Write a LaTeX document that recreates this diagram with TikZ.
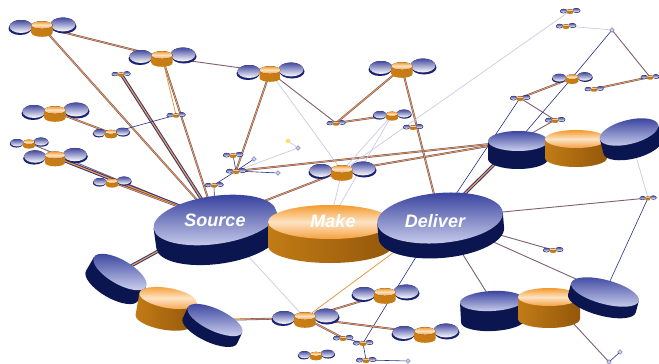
\documentclass[tikz,border=0pt]{standalone}
\usepackage{fontspec}
\setmainfont{Liberation Sans}
\usetikzlibrary{shapes.geometric,calc}
\definecolor{bT1}{HTML}{2E3596}
\definecolor{bT2}{HTML}{F0F1FC}
\definecolor{bS}{HTML}{1A2276}
\definecolor{BT1}{HTML}{3C46A0}
\definecolor{BT2}{HTML}{CDD1EE}
\definecolor{BS}{HTML}{0B1650}
\definecolor{oT1}{HTML}{F39A2C}
\definecolor{oT2}{HTML}{F5A040}
\definecolor{oT3}{HTML}{FDE3C4}
\definecolor{oS1}{HTML}{C27C16}
\definecolor{oS2}{HTML}{94570A}
\definecolor{lnk}{HTML}{6A5278}
\definecolor{brn}{HTML}{7E6070}
\newcommand\mycyl[7]{%
\begin{scope}[shift={(#1)},rotate=#5]
\path[#7] (-#2,0) -- (-#2,#4) arc[start angle=180,end angle=0,x radius=#2,y radius=#3] -- (#2,0) -- cycle;
\path[#6] (0,0) ellipse[x radius=#2,y radius=#3];
\end{scope}}
\tikzset{
 sbtop/.style={top color=bT1!90!white,middle color=bT1!30!white,bottom color=white},
 sbside/.style={fill=bS},
 btop/.style={top color=BT1,bottom color=BT2},
 bside/.style={fill=BS},
 otop/.style={top color=oT1,bottom color=oT2,middle color=oT3},
 soside/.style={left color=oS1!80!orange,right color=oS1},
 oside/.style={left color=oS1,right color=oS2},
 trio/.pic={
  \fill[sbside] (-22,1.5) ellipse[x radius=11.5,y radius=6.5];
  \fill[sbtop] (-21,-0.5) ellipse[x radius=11.5,y radius=6.5];
  \fill[sbside] (22,-0.5) ellipse[x radius=12.5,y radius=7];
  \fill[sbtop] (21,-2.5) ellipse[x radius=12.5,y radius=7];
  \path[soside] (-10.5,-2) -- (-10.5,6) arc[start angle=180,end angle=0,x radius=10.5,y radius=3.8] -- (10.5,-2) -- cycle;
  \fill[otop] (0,-2) ellipse[x radius=10.5,y radius=3.8];
 },
 dlink/.style={draw=lnk,double=oT2,double distance=0.8pt,line width=0.55pt},
 tlink/.style={draw=bT1,double=oT1,double distance=1.2pt,line width=1pt},
 brlink/.style={draw=brn,line width=0.9pt},
 blink/.style={draw=bT1!90!black,line width=0.6pt},
 llink/.style={draw=bT1!25,line width=0.7pt},
 olink/.style={draw=oT1!70!brown,line width=0.7pt},
 dia/.style={diamond,draw=bT1!70,fill=bT1!25,inner sep=0pt,minimum size=5pt,line width=0.4pt},
 yblob/.style={ellipse,fill=yellow!60!orange!60,inner sep=0pt,minimum width=5pt,minimum height=4pt},
 lbl/.style={text=white,font=\bfseries\itshape\fontsize{18}{18}\selectfont,inner sep=0pt},
}
\begin{document}
\begin{tikzpicture}[x=1pt,y=-1pt]
\fill[white] (0,0) rectangle (659,364);
\useasboundingbox (0,0) rectangle (659,364);
% main discs
\coordinate (src) at (215,220);
\coordinate (mk) at (330,222);
\coordinate (dl) at (440,218);
\coordinate (bt1) at (518,141);
\coordinate (bt2) at (576,139);
\coordinate (bt3) at (629,132);
\coordinate (rb1) at (492,301);
\coordinate (rb2) at (549,297);
\coordinate (rb3) at (605,292);
\coordinate (lb1) at (120,272);
\coordinate (lb2) at (168,298);
\coordinate (lb3) at (215,320);
% small clusters
\coordinate (A) at (42,27);
\coordinate (B) at (162,57);
\coordinate (C) at (270,72);
\coordinate (D) at (121,74);
\coordinate (E) at (176,115);
\coordinate (F) at (55,112);
\coordinate (G) at (111,133);
\coordinate (H) at (29,143);
\coordinate (I) at (55,157);
\coordinate (J) at (112,182);
\coordinate (K) at (233,155);
\coordinate (L) at (236,171);
\coordinate (M) at (214,185);
\coordinate (N) at (342,171);
\coordinate (O) at (336,123);
\coordinate (P) at (402,68);
\coordinate (Q) at (392,115);
\coordinate (R) at (413,127);
\coordinate (U) at (570,11);
\coordinate (V) at (566,26);
\coordinate (X) at (572,78);
\coordinate (Y) at (594,89);
\coordinate (Z) at (650,77);
\coordinate (AA) at (520,98);
\coordinate (AB) at (555,120);
\coordinate (BA) at (305,318);
\coordinate (BB) at (385,294);
\coordinate (BC) at (425,333);
\coordinate (BD) at (343,338);
\coordinate (BE) at (363,343);
\coordinate (BF) at (316,355);
\coordinate (BG) at (366,360);
\coordinate (CA) at (553,250);
\coordinate (CB) at (648,198);
% markers
\node[dia] (d1) at (298,148) {};
\node[dia] (d2) at (254,159) {};
\node[dia] (d3) at (278,173) {};
\node[yblob] (y1) at (288,141) {};
\node[dia] (W) at (612,30) {};
\node[dia] (dd) at (408,361) {};
\node[dia] (cc1) at (620,352) {};
\node[dia] (cc2) at (609,362) {};
% connectors
\draw[dlink] (A) -- (B);
\draw[dlink] (A) -- (src);
\draw[dlink] (B) -- (src);
\draw[brlink] (B) -- (C);
\draw[tlink] (D) -- (src);
\draw[olink] (B) -- (E);
\draw[blink] (E) -- (G);
\draw[dlink] (F) -- (G);
\draw[brlink] (H) -- (src);
\draw[tlink] (I) -- (src);
\draw[dlink] (J) -- (src);
\draw[dlink] (C) -- (L);
\draw[llink] (C) -- (N);
\draw[brlink] (C) -- (O);
\draw[blink] (K) -- (L);
\draw[blink] (L) -- (M);
\draw[blink] (M) -- (src);
\draw[llink] (L) -- (d1);
\draw[llink] (d1) -- (y1);
\draw[blink] (L) -- (d2);
\draw[blink] (L) -- (d3);
\draw[dlink] (L) -- (bt1);
\draw[dlink] (N) -- (bt1);
\draw[dlink] (N) -- (src);
\draw[llink] (N) -- (mk);
\draw[dlink] (P) -- (O);
\draw[dlink] (P) -- (dl);
\draw[dlink] (O) -- (Q);
\draw[llink] (Q) -- (mk);
\draw[llink] (Q) -- (N);
\draw[llink] (N) -- (U);
\draw[blink] (AA) -- (dl);
\draw[dlink] (AA) -- (X);
\draw[brlink] (AA) -- (AB);
\draw[blink] (X) -- (bt1);
\draw[blink] (X) -- (W);
\draw[brlink] (W) -- (Z);
\draw[dlink] (Z) -- (Y);
\draw[llink] (V) -- (W);
\draw[brlink] (AB) -- (bt1);
\draw[tlink] (bt1) -- (dl);
\draw[llink] (bt3) -- (CB);
\draw[brlink] (dl) -- (CB);
\draw[brlink] (dl) -- (CA);
\draw[brlink] (dl) -- (rb3);
\draw[blink] (CB) -- (rb3);
\draw[brlink] (dl) -- (rb1);
\draw[brlink] (rb2) -- (cc2);
\draw[blink] (cc2) -- (cc1);
\draw[blink] (dl) -- (BE);
\draw[olink] (dl) -- (BA);
\draw[llink] (src) -- (BA);
\draw[dlink] (BA) -- (BB);
\draw[dlink] (BA) -- (BC);
\draw[dlink] (BA) -- (lb3);
\draw[dlink] (BA) -- (BD);
\draw[blink] (BD) -- (BE);
\draw[blink] (BE) -- (BG);
\draw[blink] (BG) -- (dd);
\draw[tlink] (src) -- (lb1);
% small clusters
\foreach \c/\s in {A/1,B/1,C/1,D/0.28,E/0.28,F/1,G/0.55,H/0.57,I/0.95,J/0.57,K/0.3,L/0.3,M/0.28,N/1,O/0.28,P/1,Q/0.57,R/0.3,U/0.3,V/0.3,X/0.6,Y/0.28,Z/0.28,AA/0.3,AB/0.3,BA/1,BB/1,BC/1,BD/0.3,BE/0.3,BF/0.55,BG/0.3,CA/0.3,CB/0.25}
  {\pic[scale=\s] at (\c) {trio};}
% big trios
\mycyl{bt1}{30}{10}{18}{0}{btop}{bside}
\mycyl{bt2}{31}{9}{19}{0}{otop}{oside}
\mycyl{bt3}{30}{12}{15}{14}{btop}{bside}
\mycyl{rb1}{32}{10}{20}{3}{btop}{bside}
\mycyl{rb2}{31}{9}{22}{0}{otop}{oside}
\mycyl{rb3}{35}{12}{12}{-15}{btop}{bside}
\mycyl{lb1}{30}{12}{16}{-30}{btop}{bside}
\mycyl{lb2}{29}{10}{22}{-10}{otop}{oside}
\mycyl{lb3}{30}{11}{12}{-25}{btop}{bside}
\mycyl{src}{62}{24}{20}{8}{btop}{bside}
\mycyl{mk}{62}{17}{24}{0}{otop}{oside}
\mycyl{dl}{63}{25}{15}{5}{btop}{bside}
\node[lbl] (srct) at (215,220) {Source};
\node[lbl] (mkt) at (333,221) {Make};
\node[lbl] (dlt) at (435,221) {Deliver};
\end{tikzpicture}
\end{document}
